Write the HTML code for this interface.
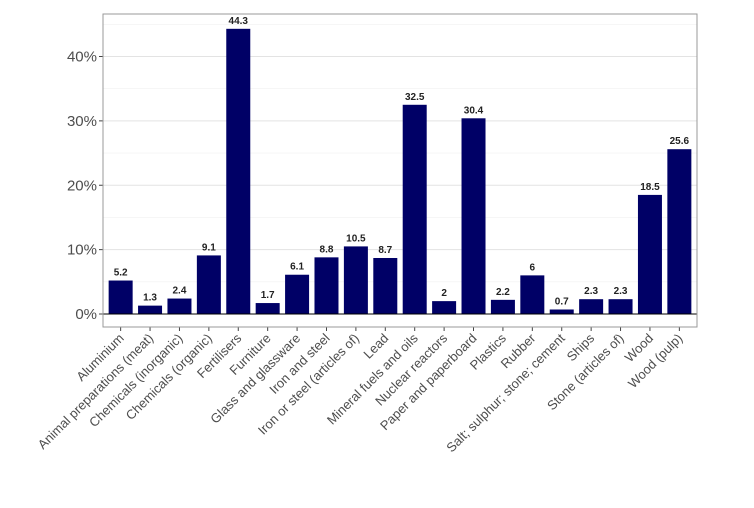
<!DOCTYPE html>
<html><head><meta charset="utf-8"><style>
body{margin:0;background:#fff;font-family:"Liberation Sans",Arial,sans-serif}
</style></head><body>
<svg id="chart" width="754" height="503" xmlns="http://www.w3.org/2000/svg"></svg>
<script>
const categories=["Aluminium","Animal preparations (meat)","Chemicals (inorganic)","Chemicals (organic)","Fertilisers","Furniture","Glass and glassware","Iron and steel","Iron or steel (articles of)","Lead","Mineral fuels and oils","Nuclear reactors","Paper and paperboard","Plastics","Rubber","Salt; sulphur; stone; cement","Ships","Stone (articles of)","Wood","Wood (pulp)"];
const values=[5.2,1.3,2.4,9.1,44.3,1.7,6.1,8.8,10.5,8.7,32.5,2,30.4,2.2,6,0.7,2.3,2.3,18.5,25.6];
const labels=["5.2","1.3","2.4","9.1","44.3","1.7","6.1","8.8","10.5","8.7","32.5","2","30.4","2.2","6","0.7","2.3","2.3","18.5","25.6"];
const yTicks=[0,10,20,30,40];
const yTickLabels=["0%","10%","20%","30%","40%"];
const svg=document.getElementById('chart');
const NS="http://www.w3.org/2000/svg";
const L=103,R=697,T=14,B=327;
const y0=314,pxPer=(314-56.5)/40;
function y(v){return y0-v*pxPer;}
const n=categories.length;
const band=(R-L)/(n-1+1.2);
function x(i){return L+band*(0.6+i);}
function el(t,a,p){const e=document.createElementNS(NS,t);for(const k in a)e.setAttribute(k,a[k]);(p||svg).appendChild(e);return e;}
for(let v=5;v<=45;v+=10){const g=el('line',{x1:L,x2:R,y1:y(v),y2:y(v),stroke:'#f0f0f0','stroke-width':0.6});

}
yTicks.forEach((v,i)=>{
const g=el('line',{x1:L,x2:R,y1:y(v),y2:y(v),stroke:'#e3e3e3','stroke-width':1});


const tk=el('line',{x1:L-4,x2:L,y1:y(v),y2:y(v),stroke:'#444'});


const t=el('text',{x:L-6,y:y(v)+5,'text-anchor':'end','font-size':15,fill:'#4d4d4d'});
t.textContent=yTickLabels[i];


});
const bw=24;
values.forEach((v,i)=>{
const b=el('rect',{x:x(i)-bw/2,y:y(v),width:bw,height:y0-y(v),fill:'#000066'});


const t=el('text',{x:x(i),y:y(v)-5,'text-anchor':'middle','font-size':10,'font-weight':'bold',fill:'#222'});
t.textContent=labels[i];


const tk=el('line',{x1:x(i),x2:x(i),y1:B,y2:B+4,stroke:'#444'});


const c=el('text',{x:x(i)+4,y:B+12,'text-anchor':'end','font-size':13,fill:'#4d4d4d',transform:`rotate(-45 ${x(i)+4} ${B+12})`});
c.textContent=categories[i];


});
const z=el('line',{x1:L,x2:R,y1:y0,y2:y0,stroke:'#000','stroke-width':1});


const p=el('rect',{x:L,y:T,width:R-L,height:B-T,fill:'none',stroke:'#999','stroke-width':1});


</script>
</body></html>
